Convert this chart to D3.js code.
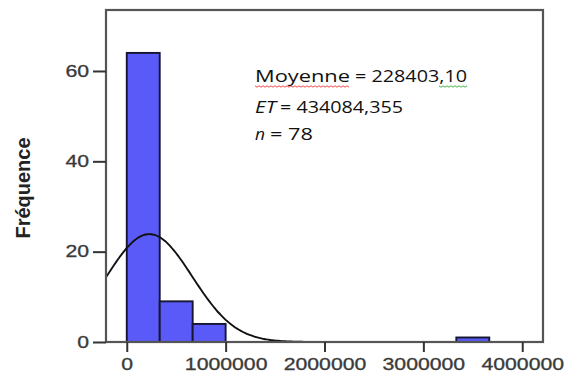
<!DOCTYPE html>
<html>
<head>
<meta charset="utf-8">
<script src="https://d3js.org/d3.v7.min.js"></script>
<style>
  body { margin: 0; background: #fff; }
  svg { display: block; }
</style>
</head>
<body>
<svg width="568" height="376"></svg>
<script>
// histogram bins (lower edge) and counts
const binStarts = [0, 333333, 666667, 1000000, 1333333, 1666667, 2000000, 2333333, 2666667, 3000000, 3333333];
const binWidth = 333333;
const counts = [64, 9, 4, 0, 0, 0, 0, 0, 0, 0, 1];

const xTicks = [0, 1000000, 2000000, 3000000, 4000000];
const yTicks = [0, 20, 40, 60];

// summary stats shown in the box
const mean = 228403.10;
const sd = 434084.355;
const n = 78;

const svg = d3.select("svg");
const plotL = 106, plotR = 543, plotT = 10, plotB = 342;

const x = d3.scaleLinear().domain([-210000, 4210000]).range([plotL, plotR]);
const y = d3.scaleLinear().domain([0, 73.5]).range([plotB, plotT]);

// bars
svg.selectAll("rect.bar")
  .data(binStarts.map((s, i) => ({ s, c: counts[i] })).filter(d => d.c > 0))
  .enter()
  .append("rect")
  .attr("class", "bar")
  .attr("x", d => x(d.s))
  .attr("y", d => y(d.c))
  .attr("width", d => x(d.s + binWidth) - x(d.s))
  .attr("height", d => y(0) - y(d.c))
  .attr("fill", "#5a5af8")
  .attr("stroke", "#161630")
  .attr("stroke-width", 1.9);

// normal curve from the stated mean / sd, scaled to counts
const curve = d3.range(-210000, 4210001, 20000).map(v => {
  const z = (v - mean) / sd;
  return [v, n * binWidth / (sd * Math.sqrt(2 * Math.PI)) * Math.exp(-0.5 * z * z)];
});
svg.append("path")
  .datum(curve)
  .attr("fill", "none")
  .attr("stroke", "#111")
  .attr("stroke-width", 1.9)
  .attr("d", d3.line().x(d => x(d[0])).y(d => y(d[1])).curve(d3.curveBasis));

// frame
svg.append("rect")
  .attr("x", plotL).attr("y", plotT)
  .attr("width", plotR - plotL).attr("height", plotB - plotT)
  .attr("fill", "none")
  .attr("stroke", "#555")
  .attr("stroke-width", 2.2);

// axes
const yAxis = svg.append("g")
  .attr("transform", `translate(${plotL},0)`)
  .call(d3.axisLeft(y).tickValues(yTicks).tickSize(13).tickPadding(4));
const xAxis = svg.append("g")
  .attr("transform", `translate(0,${plotB})`)
  .call(d3.axisBottom(x).tickValues(xTicks).tickSize(10).tickPadding(6.5).tickFormat(d3.format("d")));

[yAxis, xAxis].forEach(g => {
  g.select(".domain").remove();
  g.selectAll("line").attr("stroke", "#333").attr("stroke-width", 2);
  g.selectAll("text")
    .attr("fill", "#3a3a3a")
    .attr("stroke", "#3a3a3a")
    .attr("stroke-width", 0.3)
    .style("font-family", "'Liberation Sans', Arial, sans-serif")
    .style("font-size", "16px")
    .attr("textLength", function () { return this.textContent.length * 11.8; })
    .attr("lengthAdjust", "spacingAndGlyphs");
});

// y title
svg.append("text")
  .attr("transform", "translate(30,188) scale(1.3,1) rotate(-90)")
  .attr("text-anchor", "middle")
  .style("font-family", "'Liberation Sans', Arial, sans-serif")
  .style("font-size", "16px")
  .style("font-weight", "bold")
  .attr("fill", "#222")
  .attr("textLength", 101)
  .attr("lengthAdjust", "spacingAndGlyphs")
  .text("Fréquence");

// stats text
const st = svg.append("g").style("font-family", "'Open Sans', 'Noto Sans', sans-serif")
  .style("font-size", "17px").attr("fill", "#111");
function seg(t, x0, len, str, italic) {
  t.append("tspan").attr("x", x0).attr("textLength", len)
    .attr("lengthAdjust", "spacingAndGlyphs")
    .style("font-style", italic ? "italic" : "normal").text(str);
}
const t1 = st.append("text").attr("y", 82);
seg(t1, 255, 95, "Moyenne", false);
seg(t1, 355, 112, "= 228403,10", false);
const t2 = st.append("text").attr("y", 113);
seg(t2, 255, 21, "ET", true);
seg(t2, 280, 123, "= 434084,355", false);
const t3 = st.append("text").attr("y", 140);
seg(t3, 255, 10, "n", true);
seg(t3, 270, 43, "= " + n, false);

// spell-check squiggles
function squiggle(x0, x1, yy, color) {
  const pts = [];
  for (let i = 0; x0 + i * 2 <= x1; i++) pts.push([x0 + i * 2, yy + (i % 2 ? 1.2 : -0.2)]);
  svg.append("path").attr("d", d3.line()(pts)).attr("fill", "none")
    .attr("stroke", color).attr("stroke-width", 0.9);
}
squiggle(255, 350, 86, "#e33");
squiggle(439, 467, 86, "#3a3");
</script>
</body>
</html>
